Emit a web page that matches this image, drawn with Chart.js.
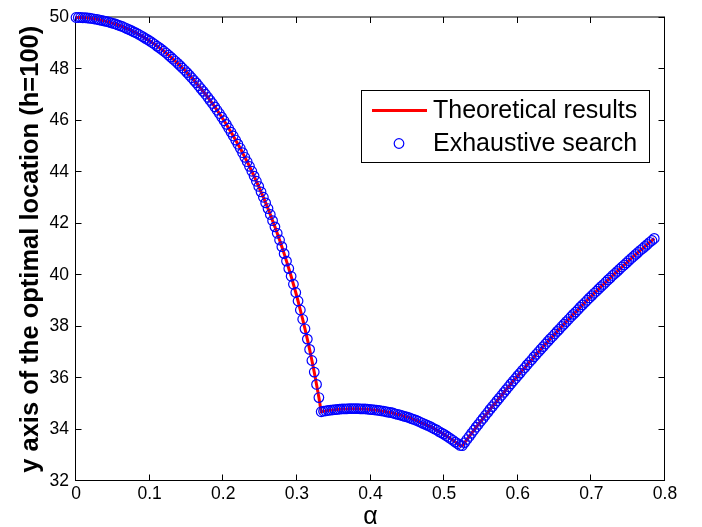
<!DOCTYPE html>
<html>
<head>
<meta charset="utf-8">
<script src="https://cdn.jsdelivr.net/npm/chart.js@4.4.1/dist/chart.umd.min.js"></script>
<style>html,body{margin:0;padding:0;background:#fff;}canvas{display:block;}</style>
</head>
<body>
<canvas id="c" width="702" height="527"></canvas>
<script>
// ---- data ----
const alpha = [
0,0.0031,0.0063,0.0094,0.0126,0.0157,0.0188,0.0220,0.0251,0.0283,
0.0314,0.0346,0.0377,0.0408,0.0440,0.0471,0.0503,0.0534,0.0565,0.0597,
0.0628,0.0660,0.0691,0.0723,0.0754,0.0785,0.0817,0.0848,0.0880,0.0911,
0.0942,0.0974,0.1005,0.1037,0.1068,0.1100,0.1131,0.1162,0.1194,0.1225,
0.1257,0.1288,0.1319,0.1351,0.1382,0.1414,0.1445,0.1477,0.1508,0.1539,
0.1571,0.1602,0.1634,0.1665,0.1696,0.1728,0.1759,0.1791,0.1822,0.1854,
0.1885,0.1916,0.1948,0.1979,0.2011,0.2042,0.2073,0.2105,0.2136,0.2168,
0.2199,0.2231,0.2262,0.2293,0.2325,0.2356,0.2388,0.2419,0.2450,0.2482,
0.2513,0.2545,0.2576,0.2608,0.2639,0.2670,0.2702,0.2733,0.2765,0.2796,
0.2827,0.2859,0.2890,0.2922,0.2953,0.2985,0.3016,0.3047,0.3079,0.3110,
0.3142,0.3173,0.3204,0.3236,0.3267,0.3299,0.3330,0.3362,0.3393,0.3424,
0.3456,0.3487,0.3519,0.3550,0.3581,0.3613,0.3644,0.3676,0.3707,0.3738,
0.3770,0.3801,0.3833,0.3864,0.3896,0.3927,0.3958,0.3990,0.4021,0.4053,
0.4084,0.4115,0.4147,0.4178,0.4210,0.4241,0.4273,0.4304,0.4335,0.4367,
0.4398,0.4430,0.4461,0.4492,0.4524,0.4555,0.4587,0.4618,0.4650,0.4681,
0.4712,0.4744,0.4775,0.4807,0.4838,0.4869,0.4901,0.4932,0.4964,0.4995,
0.5027,0.5058,0.5089,0.5121,0.5152,0.5184,0.5215,0.5246,0.5278,0.5309,
0.5341,0.5372,0.5404,0.5435,0.5466,0.5498,0.5529,0.5561,0.5592,0.5623,
0.5655,0.5686,0.5718,0.5749,0.5781,0.5812,0.5843,0.5875,0.5906,0.5938,
0.5969,0.6000,0.6032,0.6063,0.6095,0.6126,0.6158,0.6189,0.6220,0.6252,
0.6283,0.6315,0.6346,0.6377,0.6409,0.6440,0.6472,0.6503,0.6535,0.6566,
0.6597,0.6629,0.6660,0.6692,0.6723,0.6754,0.6786,0.6817,0.6849,0.6880,
0.6912,0.6943,0.6974,0.7006,0.7037,0.7069,0.7100,0.7131,0.7163,0.7194,
0.7226,0.7257,0.7288,0.7320,0.7351,0.7383,0.7414,0.7446,0.7477,0.7508,
0.7540,0.7571,0.7603,0.7634,0.7665,0.7697,0.7728,0.7760,0.7791,0.7823,
0.7854
];
const yTheory = [
50.00,50.00,50.00,49.99,49.99,49.98,49.97,49.96,49.94,49.93,
49.91,49.89,49.87,49.85,49.83,49.80,49.77,49.75,49.71,49.68,
49.65,49.61,49.57,49.53,49.49,49.44,49.40,49.35,49.30,49.25,
49.19,49.14,49.08,49.02,48.96,48.89,48.83,48.76,48.69,48.62,
48.54,48.46,48.38,48.30,48.22,48.13,48.04,47.95,47.86,47.76,
47.66,47.56,47.46,47.35,47.24,47.13,47.02,46.90,46.78,46.66,
46.53,46.40,46.27,46.13,45.99,45.85,45.70,45.55,45.40,45.24,
45.08,44.92,44.75,44.57,44.40,44.22,44.03,43.84,43.64,43.44,
43.23,43.02,42.80,42.58,42.35,42.11,41.87,41.62,41.36,41.10,
40.83,40.54,40.25,39.95,39.64,39.32,38.99,38.64,38.28,37.91,
37.51,37.11,36.68,36.23,35.75,35.24,34.69,34.71,34.72,34.74,
34.75,34.76,34.77,34.78,34.79,34.80,34.80,34.80,34.81,34.81,
34.81,34.81,34.81,34.80,34.80,34.80,34.79,34.78,34.77,34.76,
34.75,34.74,34.72,34.71,34.69,34.67,34.66,34.64,34.61,34.59,
34.57,34.54,34.51,34.49,34.46,34.42,34.39,34.36,34.32,34.28,
34.24,34.20,34.16,34.12,34.07,34.02,33.98,33.92,33.87,33.82,
33.76,33.70,33.64,33.58,33.51,33.45,33.38,33.37,33.49,33.61,
33.73,33.85,33.97,34.09,34.20,34.32,34.43,34.55,34.66,34.78,
34.89,35.00,35.11,35.22,35.33,35.44,35.55,35.66,35.77,35.88,
35.98,36.09,36.19,36.30,36.40,36.51,36.61,36.71,36.82,36.92,
37.02,37.12,37.22,37.32,37.42,37.52,37.61,37.71,37.81,37.90,
38.00,38.09,38.19,38.28,38.38,38.47,38.56,38.65,38.75,38.84,
38.93,39.02,39.11,39.20,39.29,39.37,39.46,39.55,39.63,39.72,
39.81,39.89,39.98,40.06,40.14,40.23,40.31,40.39,40.47,40.56,
40.64,40.72,40.80,40.88,40.96,41.03,41.11,41.19,41.27,41.34,
41.42
];
// exhaustive search coincides with the theoretical curve in the picture
const ySearch = yTheory.slice();

const xTicks = [0,0.1,0.2,0.3,0.4,0.5,0.6,0.7,0.8];
const xTickLabels = ['0','0.1','0.2','0.3','0.4','0.5','0.6','0.7','0.8'];
const yTicks = [32,34,36,38,40,42,44,46,48,50];
const yTickLabels = ['32','34','36','38','40','42','44','46','48','50'];
const seriesNames = ['Theoretical results','Exhaustive search'];
const xTitle = 'α';
const yTitle = 'y axis of the optimal location (h=100)';

// ---- chart ----
const FONT = "'Liberation Sans', Arial, Helvetica, sans-serif";
const toPts = ys => alpha.map((a, i) => ({x: a, y: ys[i]}));

const framePlugin = {
  id: 'frame',
  beforeDatasetsDraw(chart) {
    const {ctx, chartArea: a, scales} = chart;
    const xs = scales.x, ys = scales.y;
    const L = a.left - 0.5, R = a.right - 0.5, T = a.top - 0.5, B = a.bottom - 0.5;
    ctx.save();
    ctx.strokeStyle = '#000';
    ctx.lineWidth = 1;
    ctx.strokeRect(L, T, R - L, B - T);
    ctx.beginPath();
    xs.ticks.forEach(t => {
      const p = Math.round(xs.getPixelForValue(t.value)) - 0.5;
      ctx.moveTo(p, B); ctx.lineTo(p, B - 6);
      ctx.moveTo(p, T); ctx.lineTo(p, T + 6);
    });
    ys.ticks.forEach(t => {
      const p = Math.round(ys.getPixelForValue(t.value)) - 0.5;
      ctx.moveTo(L, p); ctx.lineTo(L + 6, p);
      ctx.moveTo(R, p); ctx.lineTo(R - 6, p);
    });
    ctx.stroke();
    ctx.restore();
  },
  afterDraw(chart) {
    const ctx = chart.ctx;
    ctx.save();
    ctx.fillStyle = '#fff';
    ctx.fillRect(361.5, 90.5, 288, 72);
    ctx.strokeStyle = '#000';
    ctx.lineWidth = 1;
    ctx.strokeRect(361.5, 90.5, 288, 72);
    ctx.strokeStyle = '#ff0000';
    ctx.lineWidth = 3;
    ctx.beginPath();
    ctx.moveTo(372, 110.5); ctx.lineTo(427, 110.5);
    ctx.stroke();
    ctx.strokeStyle = '#0000ff';
    ctx.lineWidth = 1.2;
    ctx.beginPath();
    ctx.arc(399, 143.5, 4.8, 0, Math.PI * 2);
    ctx.stroke();
    ctx.fillStyle = '#000';
    ctx.font = '25px ' + FONT;
    ctx.textAlign = 'left';
    ctx.textBaseline = 'middle';
    ctx.fillText(seriesNames[0], 433, 111);
    ctx.fillText(seriesNames[1], 433, 144.5);
    ctx.restore();
  }
};

new Chart(document.getElementById('c'), {
  type: 'scatter',
  data: {
    datasets: [
      {
        label: seriesNames[0],
        data: toPts(yTheory),
        showLine: true,
        borderColor: '#ff0000',
        borderWidth: 3,
        pointRadius: 0,
        fill: false,
        tension: 0,
        clip: false,
        order: 2
      },
      {
        label: seriesNames[1],
        data: toPts(ySearch),
        showLine: false,
        pointStyle: 'circle',
        pointRadius: 4.8,
        pointBorderWidth: 1.2,
        pointBorderColor: '#0000ff',
        pointBackgroundColor: 'rgba(0,0,0,0)',
        borderColor: '#0000ff',
        backgroundColor: 'rgba(0,0,0,0)',
        clip: false,
        order: 1
      }
    ]
  },
  options: {
    responsive: false,
    animation: false,
    devicePixelRatio: 1,
    events: [],
    layout: {padding: {left: 0, right: 37, top: 15, bottom: 0}},
    plugins: {legend: {display: false}, tooltip: {enabled: false}},
    scales: {
      x: {
        type: 'linear',
        min: 0, max: 0.8,
        afterBuildTicks: s => { s.ticks = xTicks.map(v => ({value: v})); },
        afterFit: s => { s.height = 46; },
        grid: {display: false, drawTicks: false},
        border: {display: false},
        ticks: {
          autoSkip: false, maxRotation: 0, padding: 3, color: '#000',
          font: {family: FONT, size: 17.5},
          callback: (v, i) => xTickLabels[i]
        },
        title: {
          display: true, text: xTitle, color: '#000',
          font: {family: FONT, size: 25, lineHeight: 0.8},
          padding: {top: 0, bottom: 0}
        }
      },
      y: {
        type: 'linear',
        min: 32, max: 50,
        afterBuildTicks: s => { s.ticks = yTicks.map(v => ({value: v})); },
        afterFit: s => { s.width = 76; },
        grid: {display: false, drawTicks: false},
        border: {display: false},
        ticks: {
          autoSkip: false, padding: 7, color: '#000',
          font: {family: FONT, size: 17.5},
          callback: (v, i) => yTickLabels[i]
        },
        title: {
          display: true, text: yTitle, color: '#000',
          font: {family: FONT, size: 25.5, weight: 'bold', lineHeight: 1.2},
          padding: {top: 16, bottom: 0}
        }
      }
    }
  },
  plugins: [framePlugin]
});
</script>
</body>
</html>
